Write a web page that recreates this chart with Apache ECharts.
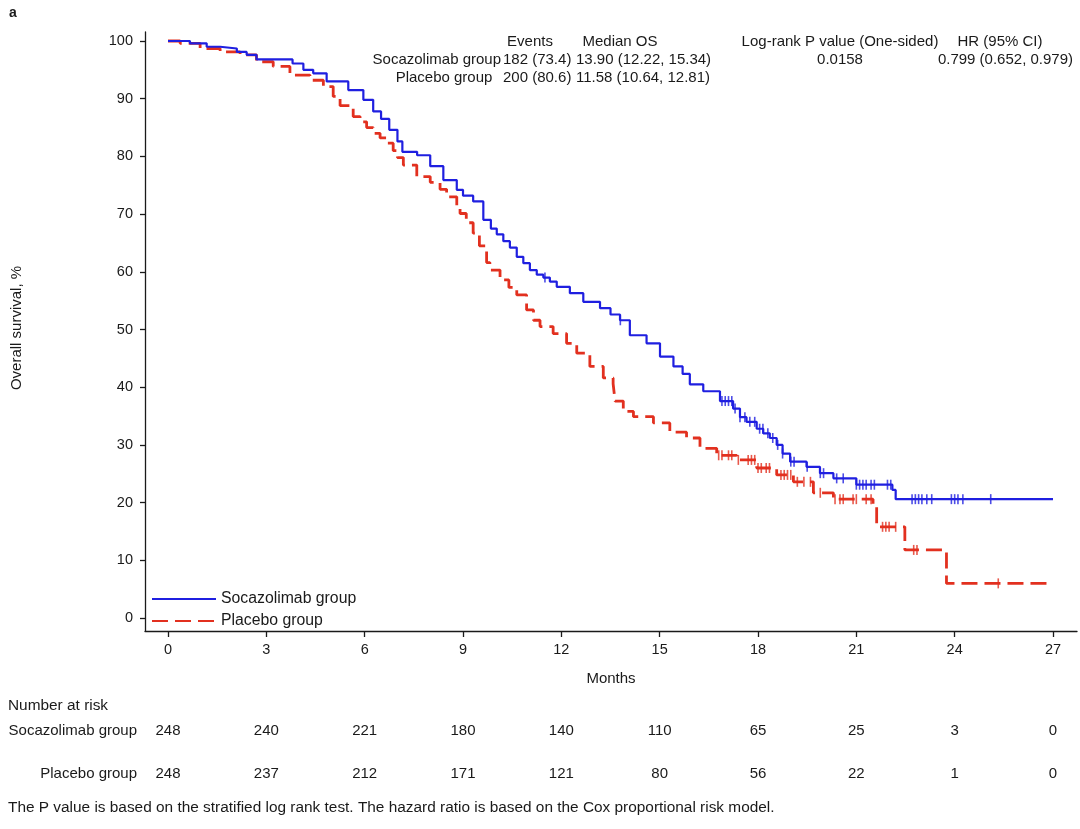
<!DOCTYPE html>
<html><head><meta charset="utf-8">
<script src="https://cdn.jsdelivr.net/npm/echarts@6/dist/echarts.min.js"></script>
<style>html,body{margin:0;padding:0;background:#fff}#c{width:1080px;height:829px}</style>
</head><body><div id="c"></div>
<script>
const xTicks = [0,3,6,9,12,15,18,21,24,27];
const yTicks = [0,10,20,30,40,50,60,70,80,90,100];
const seriesNames = ['Socazolimab group','Placebo group'];

// Socazolimab group KM curve (months, survival %)
const socT = [0,0.67,1.18,1.59,2.1,2.4,2.7,3.8,4.13,4.43,4.84,5.5,5.96,6.26,6.5,6.75,7.0,7.15,7.6,8.0,8.4,8.81,9.0,9.31,9.62,9.85,10.03,10.23,10.43,10.64,10.84,11.04,11.25,11.45,11.65,11.86,12.26,12.67,13.18,13.5,13.79,14.09,14.6,15.01,15.42,15.7,15.92,16.33,16.84,17.24,17.45,17.65,17.96,18.16,18.36,18.57,18.75,18.98,19.48,19.89,20.3,21.0,22.1,22.2,27.0];
const socS = [100,99.6,99.0,98.7,98.1,97.6,96.8,96.1,95.0,94.4,93.0,91.5,89.8,87.8,86.5,84.6,82.6,80.8,80.2,78.3,75.9,74.2,73.2,72.2,69.0,67.5,66.5,65.3,64.2,62.6,61.5,60.3,59.5,59.0,58.3,57.4,56.3,54.8,53.7,52.6,51.6,49.0,47.6,45.3,43.6,42.3,40.5,39.3,37.6,36.3,34.8,34.0,32.8,32.0,31.2,30.0,28.5,27.1,26.2,25.1,24.2,23.1,22.2,20.6,20.6];

// Placebo group KM curve
const plaT = [0,0.37,0.98,1.59,2.2,2.7,3.21,3.72,4.33,4.74,5.04,5.25,5.65,5.86,6.06,6.26,6.47,6.67,6.87,7.0,7.18,7.59,8.0,8.3,8.5,8.81,8.91,9.1,9.31,9.5,9.72,9.82,10.13,10.4,10.64,10.94,11.15,11.35,11.75,12.16,12.47,12.87,13.28,13.58,13.64,13.89,14.2,14.81,15.31,15.82,16.23,16.74,17.35,17.96,18.57,19.08,19.69,20.3,21.51,21.62,22.48,23.75,27.0];
const plaS = [100,99.6,98.7,98.1,97.6,96.4,95.6,94.1,93.2,92.1,90.4,88.8,86.9,86.0,85.0,84.0,83.2,82.3,81.0,79.8,78.5,76.5,75.5,74.3,73.0,71.0,70.1,68.5,66.7,64.5,61.6,60.3,58.6,57.3,56.0,53.4,51.6,50.5,49.3,47.6,45.9,43.6,41.6,40.6,37.6,35.8,34.9,33.8,32.2,31.2,29.4,28.2,27.4,26.0,24.8,23.6,21.7,20.6,19.6,15.8,11.8,6.0,6.0];

// Censoring times
const socCensor = [11.5,13.8,16.9,17.0,17.1,17.2,17.3,17.45,17.6,17.75,17.9,18.05,18.15,18.3,18.45,18.6,18.75,19.0,19.1,19.5,19.9,20.0,20.4,20.6,21.0,21.1,21.2,21.3,21.45,21.55,21.95,22.05,22.7,22.8,22.9,23.0,23.15,23.3,23.9,24.0,24.1,24.25,25.1];
const plaCensor = [16.8,16.9,17.1,17.2,17.4,17.7,17.8,17.9,18.0,18.1,18.25,18.35,18.7,18.8,18.9,19.0,19.2,19.4,19.6,19.9,20.35,20.5,20.6,20.9,21.0,21.3,21.45,21.8,21.9,22.0,22.2,22.75,22.85,25.33];

// Number at risk
const riskSoc = [248,240,221,180,140,110,65,25,3,0];
const riskPla = [248,237,212,171,121,80,56,22,1,0];

const BLUE = '#1f1fe0', RED = '#e2301f', INK = '#1a1a1a';
const FONT = '"Liberation Sans", Arial, sans-serif';

function survAt(T, S, t) {
  let v = S[0];
  for (let i = 0; i < T.length; i++) { if (T[i] <= t) v = S[i]; else break; }
  return v;
}
const pairs = (T, S) => T.map((t, i) => [t, S[i]]);

const X_MIN = -0.7017, X_MAX = 27.732;
const Y_MIN = -2.253, Y_MAX = 101.56;

function riskAxis(idx, arr) {
  return {
    type: 'value', gridIndex: idx, min: X_MIN, max: X_MAX,
    axisLine: {show: false}, axisTick: {show: false}, splitLine: {show: false},
    axisLabel: {customValues: xTicks, margin: 0, verticalAlign: 'middle',
      fontFamily: FONT, fontSize: 15, color: INK,
      formatter: v => String(arr[xTicks.indexOf(v)])}
  };
}

const chart = echarts.init(document.getElementById('c'), null, {renderer: 'canvas'});
const txt = (x, y, text, extra, size) => ({type: 'text', x, y, silent: true,
  style: Object.assign({text, font: (size || 15) + 'px ' + FONT, fill: INK, textVerticalAlign: 'middle'}, extra || {})});

chart.setOption({
  animation: false,
  backgroundColor: '#fff',
  grid: [
    {left: 145, right: 3, top: 32, bottom: 198},
    {left: 145, right: 3, top: 730, height: 1},
    {left: 145, right: 3, top: 773, height: 1}
  ],
  xAxis: [
    {type: 'value', gridIndex: 0, min: X_MIN, max: X_MAX,
     axisLine: {onZero: false, lineStyle: {color: INK, width: 1.3}},
     axisTick: {customValues: xTicks, length: 6, lineStyle: {color: INK, width: 1.3}},
     axisLabel: {customValues: xTicks, margin: 11, fontFamily: FONT, fontSize: 14.5, color: INK},
     splitLine: {show: false}},
    riskAxis(1, riskSoc),
    riskAxis(2, riskPla)
  ],
  yAxis: [
    {type: 'value', gridIndex: 0, min: Y_MIN, max: Y_MAX,
     axisLine: {show: true, onZero: false, lineStyle: {color: INK, width: 1.3}},
     axisTick: {show: true, customValues: yTicks, length: 5, lineStyle: {color: INK, width: 1.3}},
     axisLabel: {customValues: yTicks, margin: 12, fontFamily: FONT, fontSize: 14.5, color: INK},
     splitLine: {show: false}},
    {type: 'value', gridIndex: 1, show: false},
    {type: 'value', gridIndex: 2, show: false}
  ],
  legend: {
    data: seriesNames, orient: 'vertical', left: 146, top: 586, padding: 5,
    itemWidth: 64, itemHeight: 14, itemGap: 6,
    itemStyle: {opacity: 0},
    textStyle: {fontFamily: FONT, fontSize: 15.8, color: INK}
  },
  series: [
    {name: seriesNames[0], type: 'line', step: 'end', symbol: 'none', showSymbol: false,
     data: pairs(socT, socS), z: 4,
     lineStyle: {color: BLUE, width: 2.2}, itemStyle: {color: BLUE}},
    {name: seriesNames[1], type: 'line', step: 'end', symbol: 'none', showSymbol: false,
     data: pairs(plaT, plaS), z: 3,
     lineStyle: {color: RED, width: 2.8, type: [16, 7]}, itemStyle: {color: RED}},
    {name: 'socCensor', type: 'scatter', symbol: 'rect', symbolSize: [1.6, 10], z: 5,
     itemStyle: {color: BLUE}, data: socCensor.map(t => [t, survAt(socT, socS, t)])},
    {name: 'plaCensor', type: 'scatter', symbol: 'rect', symbolSize: [1.6, 10], z: 5,
     itemStyle: {color: RED}, data: plaCensor.map(t => [t, survAt(plaT, plaS, t)])}
  ],
  graphic: [
    txt(9, 13, 'a', {font: 'bold 14px ' + FONT}),
    {type: 'text', x: 17, y: 328, rotation: Math.PI / 2, silent: true,
     style: {text: 'Overall survival, %', font: '15px ' + FONT, fill: INK, textAlign: 'center', textVerticalAlign: 'middle'}},
    txt(611, 679, 'Months', {textAlign: 'center'}),
    txt(8, 706, 'Number at risk', null, 15.4),
    txt(137, 731, 'Socazolimab group', {textAlign: 'right'}),
    txt(137, 774, 'Placebo group', {textAlign: 'right'}),
    txt(8, 808, 'The P value is based on the stratified log rank test. The hazard ratio is based on the Cox proportional risk model.', null, 15.4),
    // header table
    txt(530, 42, 'Events', {textAlign: 'center'}),
    txt(620, 42, 'Median OS', {textAlign: 'center'}),
    txt(840, 42, 'Log-rank P value (One-sided)', {textAlign: 'center'}),
    txt(1000, 42, 'HR (95% CI)', {textAlign: 'center'}),
    txt(501, 60, 'Socazolimab group', {textAlign: 'right'}),
    txt(503, 60, '182 (73.4)'),
    txt(576, 60, '13.90 (12.22, 15.34)'),
    txt(840, 60, '0.0158', {textAlign: 'center'}),
    txt(1073, 60, '0.799 (0.652, 0.979)', {textAlign: 'right'}),
    txt(444, 78, 'Placebo group', {textAlign: 'center'}),
    txt(503, 78, '200 (80.6)'),
    txt(576, 78, '11.58 (10.64, 12.81)')
  ]
});
</script>
</body></html>
